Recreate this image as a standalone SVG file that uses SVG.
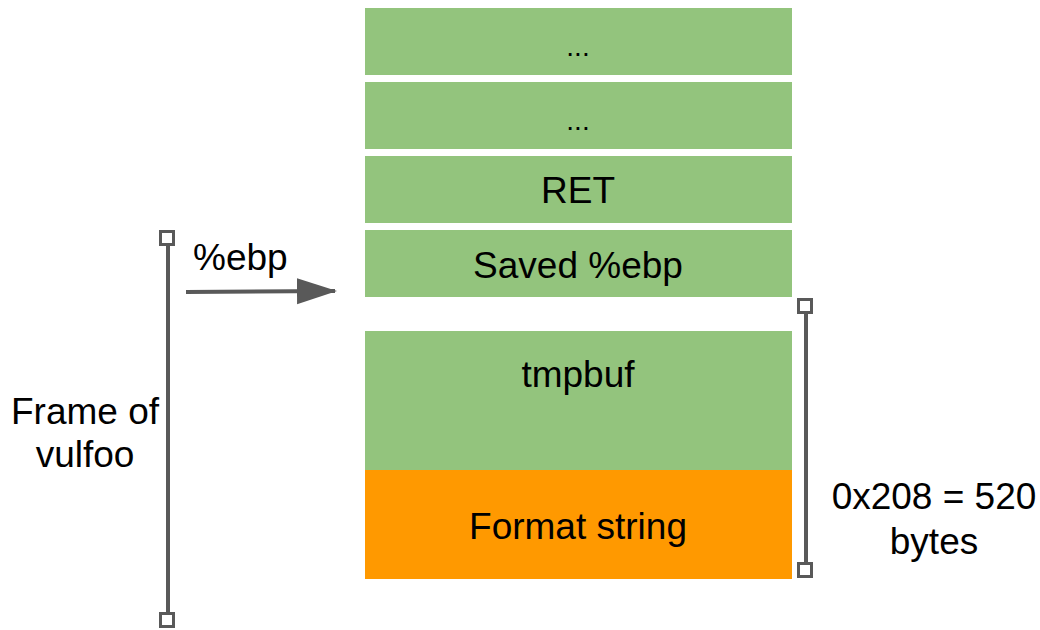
<svg xmlns="http://www.w3.org/2000/svg" width="1040" height="630" viewBox="0 0 1040 630">
<style>
.g{fill:#93c47d}
.o{fill:#ff9900}
text{font-family:"Liberation Sans",Arial,sans-serif;font-size:37px;fill:#000}
.c{text-anchor:middle}
.ln{stroke:#595959;stroke-width:4;fill:none}
.sq{stroke:#595959;stroke-width:3;fill:#fff}
</style>
<defs>
<marker id="ah" markerUnits="userSpaceOnUse" markerWidth="40" markerHeight="28" refX="38" refY="13" orient="auto">
<path d="M0,0 L40,13 L0,26 Z" fill="#595959"/>
</marker>
</defs>
<rect width="1040" height="630" fill="#fff"/>
<g id="cell-dots1"><rect class="g" x="365" y="8" width="427" height="67"/><text class="c" x="578" y="56" style="font-size:28px">...</text></g>
<g id="cell-dots2"><rect class="g" x="365" y="82" width="427" height="67"/><text class="c" x="578" y="130" style="font-size:28px">...</text></g>
<g id="cell-ret"><rect class="g" x="365" y="156" width="427" height="67"/><text class="c" x="578" y="203">RET</text></g>
<g id="cell-saved"><rect class="g" x="365" y="230" width="427" height="67"/><text class="c" x="578" y="278">Saved %ebp</text></g>
<g id="cell-tmpbuf"><rect class="g" x="365" y="331" width="427" height="140"/><text class="c" x="578" y="387">tmpbuf</text></g>
<g id="cell-format"><rect class="o" x="365" y="470" width="427" height="109"/><text class="c" x="578" y="539">Format string</text></g>
<g id="connectors">
<line class="ln" x1="186" y1="292" x2="335" y2="291" marker-end="url(#ah)"/>
<line class="ln" x1="168" y1="238" x2="168" y2="620"/>
<rect class="sq" x="160.5" y="231.5" width="13" height="13"/>
<rect class="sq" x="160.5" y="613.5" width="13" height="13"/>
<line class="ln" x1="806" y1="306" x2="806" y2="570"/>
<rect class="sq" x="798.5" y="299.5" width="13" height="13"/>
<rect class="sq" x="798.5" y="563.5" width="13" height="13"/>
</g>
<g id="label-ebp"><text x="193" y="270">%ebp</text></g>
<g id="label-frame"><text class="c" x="85" y="424">Frame of</text><text class="c" x="85" y="467">vulfoo</text></g>
<g id="label-size"><text class="c" x="934" y="509">0x208 = 520</text><text class="c" x="934" y="554">bytes</text></g>
</svg>
